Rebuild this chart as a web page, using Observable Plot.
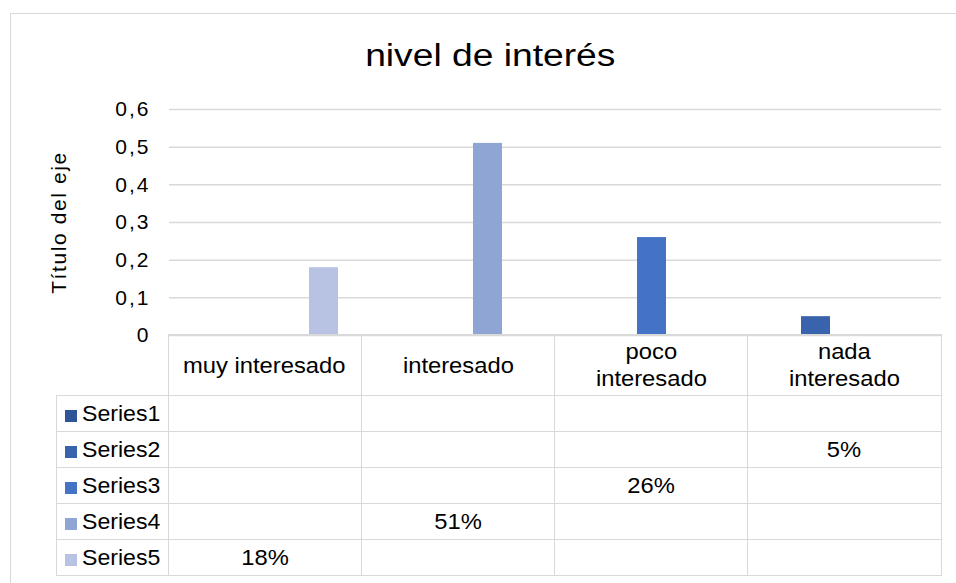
<!DOCTYPE html>
<html>
<head>
<meta charset="utf-8">
<script src="https://cdn.jsdelivr.net/npm/d3@7"></script>
<script src="https://cdn.jsdelivr.net/npm/@observablehq/plot@0.6"></script>
<style>
  html, body { margin: 0; padding: 0; background: #fff; }
  body { width: 956px; height: 583px; overflow: hidden; font-family: "Liberation Sans", Arial, sans-serif; color: #000; }
  #wrap { position: relative; width: 956px; height: 583px; overflow: hidden; }
  #frame { position: absolute; left: 10px; top: 13px; width: 1000px; height: 620px;
           border-left: 1.5px solid #d9d9d9; border-top: 1.5px solid #d9d9d9; }
  #title { position: absolute; left: 0; top: 40px; width: 980px; text-align: center;
           font-size: 31px; line-height: 31px; }
  #title span { display: inline-block; transform: scaleX(1.2); }
  #chart { position: absolute; left: 0; top: 90px; }
  #chart svg { overflow: visible; }
  #chart g[aria-label="y-axis tick label"] text { letter-spacing: 2px; }
  #chart g[aria-label="y-axis label"] text { letter-spacing: 1.6px; }
  table.dt { position: absolute; left: 55.5px; top: 334.25px; border-collapse: collapse;
             table-layout: fixed; font-size: 22px; }
  table.dt td { border: 1.5px solid #d9d9d9; padding: 0; text-align: center; vertical-align: middle;
                overflow: visible; white-space: nowrap; }
  table.dt td.corner { border-top: none; border-left: none; }
  table.dt td.head { white-space: pre-line; line-height: 27px; }
  table.dt td.leg { text-align: left; padding-left: 8px; }
  table.dt .sw { display: inline-block; width: 12px; height: 12px; margin-right: 5px; vertical-align: -1px; }
  table.dt .tx { display: inline-block; transform: scaleX(1.08); }
  table.dt .lx { display: inline-block; transform: scaleX(1.05); transform-origin: left center; }
</style>
</head>
<body>
<div id="wrap">
  <div id="frame"></div>
  <div id="title"><span>nivel de interés</span></div>
  <div id="chart"></div>
</div>
<script>
// ---- data ----
const categories = ["muy interesado", "interesado", "poco interesado", "nada interesado"];
const headerLabels = ["muy interesado", "interesado", "poco\ninteresado", "nada\ninteresado"];
const seriesNames = ["Series1", "Series2", "Series3", "Series4", "Series5"];
const seriesColors = ["#2f5597", "#3a63ae", "#4472c4", "#8fa5d4", "#b8c2e2"];
const series1 = [null, null, null, null];
const series2 = [null, null, null, 0.05];
const series3 = [null, null, 0.26, null];
const series4 = [null, 0.51, null, null];
const series5 = [0.18, null, null, null];
const yTicks = [0, 0.1, 0.2, 0.3, 0.4, 0.5, 0.6];
const yTickLabels = ["0", "0,1", "0,2", "0,3", "0,4", "0,5", "0,6"];
const chartTitle = "nivel de interés";
const yTitle = "Título del eje";

const seriesValues = [series1, series2, series3, series4, series5];
const rows = [];
seriesValues.forEach((vals, s) => vals.forEach((v, c) => {
  if (v != null) rows.push({category: categories[c], series: seriesNames[s], value: v});
}));

const fmtTick = d => {
  const i = yTicks.findIndex(t => Math.abs(t - d) < 1e-9);
  return i >= 0 ? yTickLabels[i] : "";
};

const chart = Plot.plot({
  width: 956,
  height: 250,
  marginLeft: 168,
  marginRight: 15,
  marginTop: 19,
  marginBottom: 5,
  style: {fontFamily: "Liberation Sans, Arial, sans-serif", fontSize: "21px", color: "#000", background: "transparent"},
  fx: {domain: categories, padding: 0, axis: null},
  x: {domain: seriesNames, paddingInner: 0, paddingOuter: 0.75, axis: null},
  y: {domain: [0, 0.6], ticks: yTicks, tickFormat: fmtTick, tickSize: 0, tickPadding: 19,
      label: yTitle, labelAnchor: "center", labelOffset: 118, labelArrow: "none"},
  color: {domain: seriesNames, range: seriesColors},
  marks: [
    Plot.ruleY(yTicks, {stroke: "#d9d9d9", strokeWidth: 1.5}),
    Plot.barY(rows, {fx: "category", x: "series", y: "value", fill: "series"})
  ]
});
document.getElementById("chart").appendChild(chart);

// ---- data table ----
const colWidths = [112, 193.25, 193.25, 193.25, 193.25];
const table = document.createElement("table");
table.className = "dt";
table.style.width = d3.sum(colWidths) + "px";
const cg = document.createElement("colgroup");
colWidths.forEach(w => { const c = document.createElement("col"); c.style.width = w + "px"; cg.appendChild(c); });
table.appendChild(cg);

const hr = document.createElement("tr");
hr.style.height = "61px";
const corner = document.createElement("td");
corner.className = "corner";
hr.appendChild(corner);
headerLabels.forEach(h => {
  const td = document.createElement("td");
  td.className = "head";
  const sp = document.createElement("span");
  sp.className = "tx";
  sp.textContent = h;
  td.appendChild(sp);
  hr.appendChild(td);
});
table.appendChild(hr);

seriesNames.forEach((name, s) => {
  const tr = document.createElement("tr");
  tr.style.height = "36px";
  const lg = document.createElement("td");
  lg.className = "leg";
  const sw = document.createElement("span");
  sw.className = "sw";
  sw.style.background = seriesColors[s];
  const lx = document.createElement("span");
  lx.className = "lx";
  lx.textContent = name;
  lg.appendChild(sw);
  lg.appendChild(lx);
  tr.appendChild(lg);
  seriesValues[s].forEach(v => {
    const td = document.createElement("td");
    if (v != null) {
      const sp = document.createElement("span");
      sp.className = "tx";
      sp.textContent = Math.round(v * 100) + "%";
      td.appendChild(sp);
    }
    tr.appendChild(td);
  });
  table.appendChild(tr);
});
document.getElementById("wrap").appendChild(table);
</script>
</body>
</html>
